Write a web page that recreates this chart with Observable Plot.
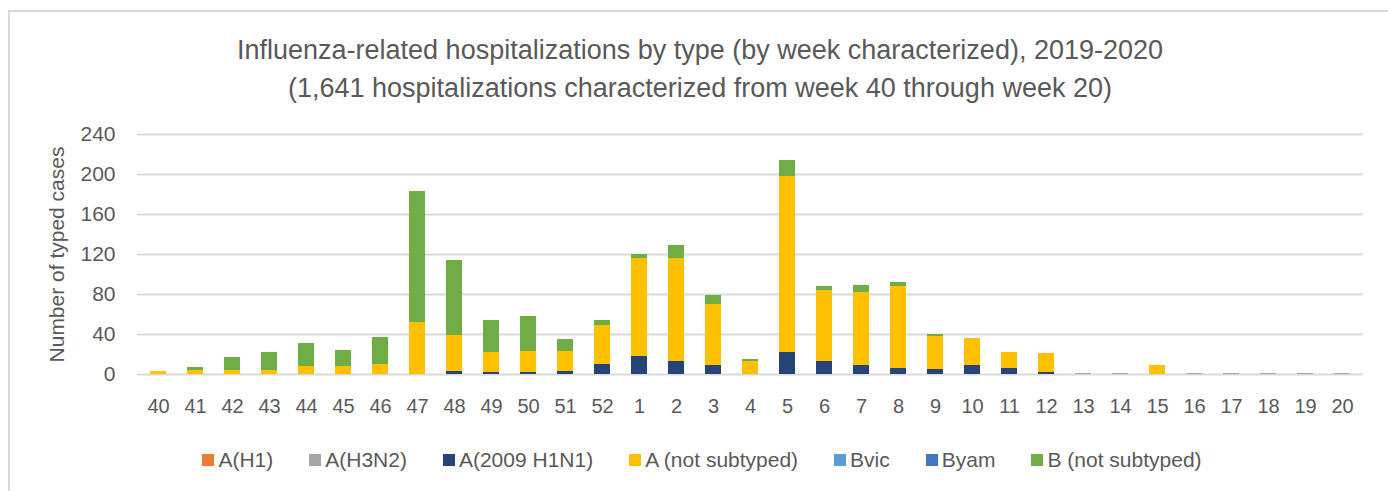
<!DOCTYPE html>
<html>
<head>
<meta charset="utf-8">
<script src="https://cdn.jsdelivr.net/npm/d3@7"></script>
<script src="https://cdn.jsdelivr.net/npm/@observablehq/plot@0.6"></script>
<style>
  html, body { margin: 0; padding: 0; background: #fff; }
  #wrap { position: relative; width: 1388px; height: 491px; overflow: hidden; font-family: "Liberation Sans", Arial, sans-serif; color: #595959; }
  #frame { position: absolute; left: 8px; top: 10px; width: 1400px; height: 500px; border: 2px solid #d9d9d9; box-sizing: border-box; }
  #title { position: absolute; left: 0; width: 1400px; top: 31px; text-align: center; font-size: 27px; line-height: 38px; }
  #chart { position: absolute; left: 0; top: 110px; }
  #legend { position: absolute; top: 448px; left: 0; width: 1404px; display: flex; justify-content: center; gap: 36px; font-size: 21px; line-height: 24px; }
  .item { display: flex; align-items: center; white-space: nowrap; }
  .sw { width: 12px; height: 12px; margin-right: 4px; display: inline-block; }
</style>
</head>
<body>
<div id="wrap">
  <div id="frame"></div>
  <div id="title">Influenza-related hospitalizations by type (by week characterized), 2019-2020<br>(1,641 hospitalizations characterized from week 40 through week 20)</div>
  <div id="chart"></div>
  <div id="legend"></div>
</div>
<script>
const weeks = ["40","41","42","43","44","45","46","47","48","49","50","51","52","1","2","3","4","5","6","7","8","9","10","11","12","13","14","15","16","17","18","19","20"];
const seriesNames = ["A(H1)","A(H3N2)","A(2009 H1N1)","A (not subtyped)","Bvic","Byam","B (not subtyped)"];
const seriesColors = ["#ed7d31","#a5a5a5","#264478","#ffc000","#5b9bd5","#4472c4","#70ad47"];
const yTicks = [0,40,80,120,160,200,240];

const aH1      = [0,0,0,0,0,0,0,0,0,0,0,0,0,0,0,0,0,0,0,0,0,0,0,0,0,0,0,0,0,0,0,0,0];
const aH3N2    = [0,0,0,0,0,0,0,0,0,0,0,0,0,0,0,0,0,0,0,0,0,0,0,0,0,1,1,0,1,1,1,1,1];
const a2009    = [0,0,0,0,0,0,0,0,3,2,2,3,10,18,13,9,0,22,13,9,6,5,9,6,2,0,0,0,0,0,0,0,0];
const aNotSub  = [3,4,4,4,8,8,10,52,36,20,21,20,39,98,103,61,13,176,71,73,82,33,27,16,19,0,0,9,0,0,0,0,0];
const bvic     = [0,0,0,0,0,0,0,0,0,0,0,0,0,0,0,0,0,0,0,0,0,0,0,0,0,0,0,0,0,0,0,0,0];
const byam     = [0,0,0,0,0,0,0,0,0,0,0,0,0,0,0,0,0,0,0,0,0,0,0,0,0,0,0,0,0,0,0,0,0];
const bNotSub  = [0,3,13,18,23,16,27,131,75,32,35,12,5,4,13,9,2,16,4,7,4,2,0,0,0,0,0,0,0,0,0,0,0];

const seriesValues = [aH1, aH3N2, a2009, aNotSub, bvic, byam, bNotSub];
const data = [];
seriesNames.forEach((s, si) => {
  weeks.forEach((w, wi) => data.push({week: w, series: s, value: seriesValues[si][wi]}));
});

const chart = Plot.plot({
  width: 1388,
  height: 320,
  marginTop: 24,
  marginBottom: 56,
  marginLeft: 137,
  marginRight: 25,
  style: { fontFamily: "'Liberation Sans', Arial, sans-serif", color: "#595959", background: "transparent" },
  x: { type: "band", domain: weeks, paddingInner: 0.57, paddingOuter: 0.285, label: null },
  y: { domain: [0, 240], label: null },
  color: { domain: seriesNames, range: seriesColors },
  marks: [
    Plot.gridY(yTicks, { stroke: "#d9d9d9", strokeOpacity: 1, strokeWidth: 2 }),
    Plot.barY(data, Plot.stackY({ x: "week", y: "value", fill: "series", order: seriesNames })),
    Plot.axisY(yTicks, { tickSize: 0, tickPadding: 22, fontSize: 21, label: null }),
    Plot.axisX({ tickSize: 0, tickPadding: 24, fontSize: 20, label: null }),
    Plot.text(["Number of typed cases"], { frameAnchor: "left", textAnchor: "middle", dx: -80, rotate: -90, fontSize: 21, fill: "#595959" })
  ]
});
document.getElementById("chart").appendChild(chart);

const legend = document.getElementById("legend");
seriesNames.forEach((s, i) => {
  const it = document.createElement("div");
  it.className = "item";
  const sw = document.createElement("span");
  sw.className = "sw";
  sw.style.background = seriesColors[i];
  it.appendChild(sw);
  it.appendChild(document.createTextNode(s));
  legend.appendChild(it);
});
</script>
</body>
</html>
